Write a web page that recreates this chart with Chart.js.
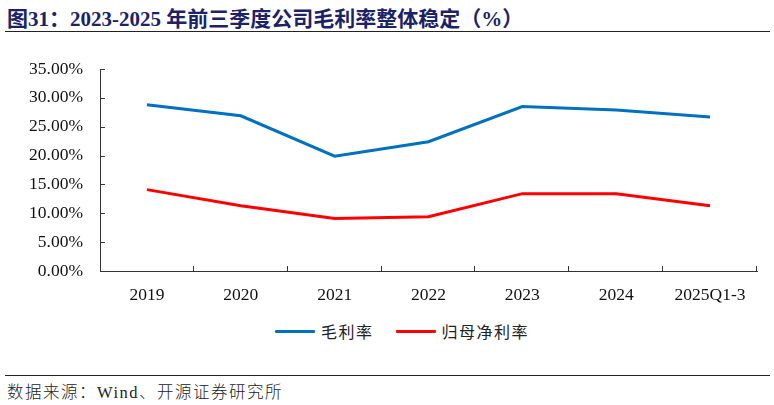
<!DOCTYPE html>
<html lang="zh">
<head>
<meta charset="UTF-8">
<title>毛利率</title>
<script src="https://cdn.jsdelivr.net/npm/chart.js"></script>
<style>
    body { margin: 0; width: 774px; height: 405px; background: #fff; position: relative; overflow: hidden; }
    .title {
        position: absolute; left: 7px; top: 2px;
        font-family: 'Liberation Serif', 'Noto Sans CJK SC', serif;
        font-weight: bold; font-size: 21px; color: #1b2366; white-space: nowrap;
    }
    .title .cn { font-family: 'Noto Sans CJK SC', sans-serif; }
    .rule { position: absolute; left: 5px; right: 4px; height: 1px; background: #222; }
    .source {
        position: absolute; left: 7px; top: 379px; letter-spacing: 1.5px;
        font-family: 'Liberation Serif', 'Noto Sans CJK SC', serif; font-size: 16.5px; color: #222;
    }
    .source .cn { font-family: 'Noto Sans CJK SC', sans-serif; font-weight: 300; }
    #wrap { position: absolute; left: 0; top: 40px; width: 774px; height: 275px; }
    #legend {
        position: absolute; left: 275px; top: 319px; height: 24px;
        display: flex; align-items: center; white-space: nowrap;
        font-family: 'Noto Sans CJK SC', sans-serif; font-size: 16px; color: #222; letter-spacing: 1.5px;
    }
    #legend .item { display: flex; align-items: center; margin-right: 22px; }
    #legend .swatch { width: 40px; height: 3px; margin-right: 6px; border-radius: 1px; }
</style>
</head>
<body>
<div class="title"><span class="cn">图</span>31<span class="cn">：</span>2023-2025 <span class="cn">年前三季度公司毛利率整体稳定（</span>%<span class="cn">）</span></div>
<div class="rule" style="top:31px"></div>
<div id="wrap"><canvas id="myChart"></canvas></div>
<div id="legend"></div>
<div class="rule" style="top:375px"></div>
<div class="source"><span class="cn">数据来源：</span>Wind<span class="cn">、开源证券研究所</span></div>

<script>
    // 数据
    const categories = ['2019', '2020', '2021', '2022', '2023', '2024', '2025Q1-3'];
    const grossMargin = [28.8, 26.9, 19.9, 22.4, 28.5, 27.9, 26.7];
    const netMargin = [14.1, 11.3, 9.1, 9.4, 13.4, 13.4, 11.3];
    const yTicks = [0, 5, 10, 15, 20, 25, 30, 35];

    // 向内的刻度线
    const innerTicks = {
        id: 'innerTicks',
        afterDraw(chart) {
            const { ctx, chartArea, scales } = chart;
            ctx.save();
            ctx.strokeStyle = '#333';
            ctx.lineWidth = 1;
            ctx.beginPath();
            yTicks.forEach(v => {
                const y = Math.round(scales.y.getPixelForValue(v)) + 0.5;
                ctx.moveTo(chartArea.left, y);
                ctx.lineTo(chartArea.left + 5, y);
            });
            const step = (chartArea.right - chartArea.left) / categories.length;
            for (let i = 1; i <= categories.length; i++) {
                const x = Math.round(chartArea.left + step * i) - 0.5;
                ctx.moveTo(x, chartArea.bottom);
                ctx.lineTo(x, chartArea.bottom - 5);
            }
            ctx.stroke();
            ctx.restore();
        }
    };

    const ctx = document.getElementById('myChart').getContext('2d');
    const myChart = new Chart(ctx, {
        type: 'line',
        data: {
            labels: categories,
            datasets: [
                { label: '毛利率', data: grossMargin, borderColor: '#0070C0', backgroundColor: '#0070C0', borderWidth: 3, pointRadius: 0, tension: 0 },
                { label: '归母净利率', data: netMargin, borderColor: '#FF0000', backgroundColor: '#FF0000', borderWidth: 3, pointRadius: 0, tension: 0 }
            ]
        },
        options: {
            responsive: true,
            maintainAspectRatio: false,
            animation: false,
            layout: { padding: { top: 29, right: 17, left: 0, bottom: 4 } },
            plugins: {
                tooltip: { enabled: false },
                legend: { display: false }
            },
            scales: {
                x: {
                    offset: true,
                    grid: { display: false },
                    border: { display: true, color: '#333', width: 1 },
                    ticks: { color: '#111', padding: 6, font: { family: "'Liberation Serif', serif", size: 17.5 } },
                    afterFit(s) { s.height = 40; }
                },
                y: {
                    min: 0, max: 35,
                    grid: { display: false },
                    border: { display: true, color: '#333', width: 1 },
                    afterBuildTicks(s) { s.ticks = yTicks.map(v => ({ value: v })); },
                    afterFit(s) { s.width = 100; },
                    ticks: {
                        color: '#111', padding: 9,
                        font: { family: "'Liberation Serif', serif", size: 17.5 },
                        callback: v => v.toFixed(2) + '%'
                    }
                }
            }
        },
        plugins: [innerTicks]
    });

    // 图例（由数据集生成）
    const legendEl = document.getElementById('legend');
    myChart.data.datasets.forEach(ds => {
        const item = document.createElement('div');
        item.className = 'item';
        item.innerHTML = `<span class="swatch" style="background:${ds.borderColor}"></span><span>${ds.label}</span>`;
        legendEl.appendChild(item);
    });
</script>
</body>
</html>
